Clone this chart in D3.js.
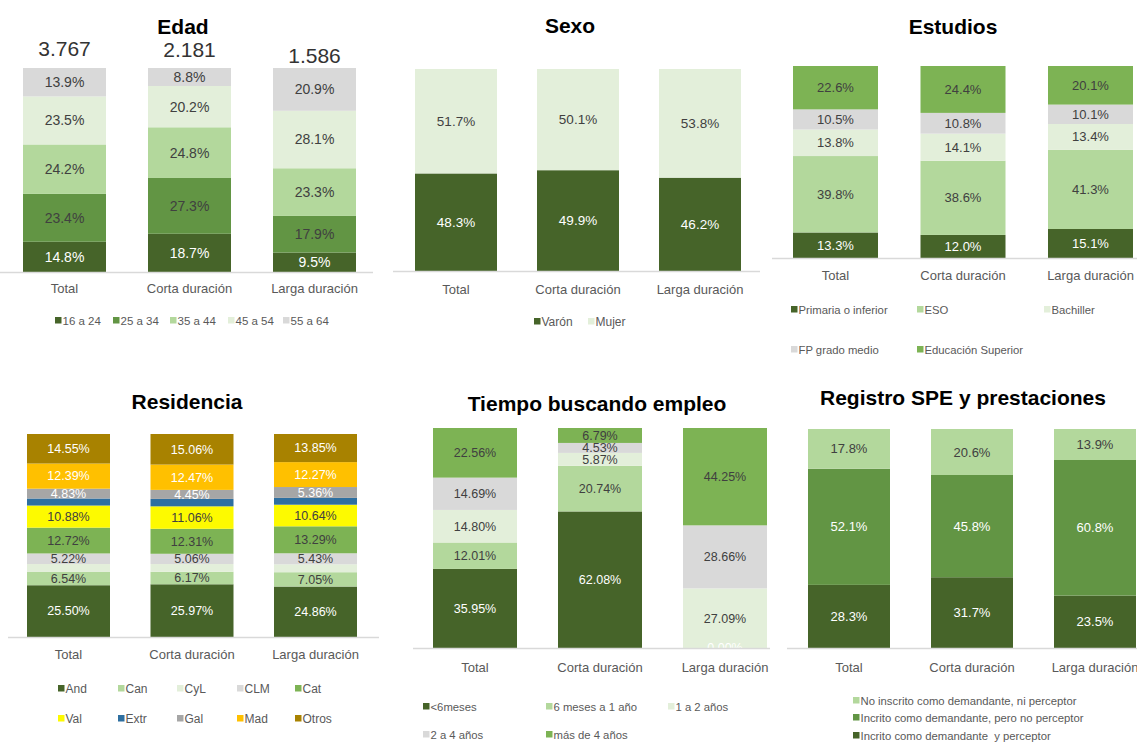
<!DOCTYPE html>
<html>
<head>
<meta charset="utf-8">
<script src="https://d3js.org/d3.v7.min.js"></script>
<style>
  body { margin: 0; background: #fff; }
  text { font-family: "Liberation Sans", Arial, sans-serif; }
</style>
</head>
<body>
<svg id="chart" width="1137" height="743"></svg>
<script>
  // categorias comunes a los seis paneles
  const categorias = ["Total", "Corta duración", "Larga duración"];

  // Edad
  const edadSeries = ["16 a 24", "25 a 34", "35 a 44", "45 a 54", "55 a 64"];
  const edadTotal = [14.8, 23.4, 24.2, 23.5, 13.9];
  const edadCorta = [18.7, 27.3, 24.8, 20.2, 8.8];
  const edadLarga = [9.5, 17.9, 23.3, 28.1, 20.9];
  const edadN = ["3.767", "2.181", "1.586"];

  // Sexo
  const sexoSeries = ["Varón", "Mujer"];
  const sexoTotal = [48.3, 51.7];
  const sexoCorta = [49.9, 50.1];
  const sexoLarga = [46.2, 53.8];

  // Estudios
  const estudiosSeries = ["Primaria o inferior", "ESO", "Bachiller", "FP grado medio", "Educación Superior"];
  const estudiosTotal = [13.3, 39.8, 13.8, 10.5, 22.6];
  const estudiosCorta = [12.0, 38.6, 14.1, 10.8, 24.4];
  const estudiosLarga = [15.1, 41.3, 13.4, 10.1, 20.1];

  // Residencia (CyL y Extr sin etiqueta en el original, valores estimados)
  const residenciaSeries = ["And", "Can", "CyL", "CLM", "Cat", "Val", "Extr", "Gal", "Mad", "Otros"];
  const residenciaTotal = [25.50, 6.54, 3.90, 5.22, 12.72, 10.88, 3.47, 4.83, 12.39, 14.55];
  const residenciaCorta = [25.97, 6.17, 3.80, 5.06, 12.31, 11.06, 3.65, 4.45, 12.47, 15.06];
  const residenciaLarga = [24.86, 7.05, 3.90, 5.43, 13.29, 10.64, 3.35, 5.36, 12.27, 13.85];
  const residenciaSinEtiqueta = ["CyL", "Extr"];

  // Tiempo buscando empleo
  const tiempoSeries = ["<6meses", "6 meses a 1 año", "1 a 2 años", "2 a 4 años", "más de 4 años"];
  const tiempoTotal = [35.95, 12.01, 14.80, 14.69, 22.56];
  const tiempoCorta = [62.08, 20.74, 5.87, 4.53, 6.79];
  const tiempoLarga = [0.00, null, 27.09, 28.66, 44.25];

  // Registro SPE y prestaciones
  const registroSeries = ["Incrito como demandante  y perceptor", "Incrito como demandante, pero no perceptor", "No inscrito como demandante, ni perceptor"];
  const registroTotal = [28.3, 52.1, 17.8];
  const registroCorta = [31.7, 45.8, 20.6];
  const registroLarga = [23.5, 60.8, 13.9];

  // colores
  const dark = "#466429", mid = "#629544", green = "#7db354", light = "#b3d89c",
        pale = "#e3efda", gray = "#d9d9d9", gal = "#a6a6a6", extr = "#2e6fa0",
        val = "#fdfa00", mad = "#ffc000", otros = "#a88200";
  const ink = "#404040", white = "#ffffff";

  const svg = d3.select("#chart");

  function drawPanel(p) {
    const g = svg.append("g");

    const x = d3.scaleBand()
      .domain(categorias)
      .range([p.left, p.left + 2 * p.step + p.barW])
      .paddingInner(1 - p.barW / p.step)
      .paddingOuter(0);

    const y = d3.scaleLinear().domain([0, 1]).range([p.bottom, p.top]);

    const rows = categorias.map((c, i) => {
      const o = { cat: c };
      p.series.forEach((s, j) => o[s] = p.values[i][j] ?? 0);
      return o;
    });
    const layers = d3.stack().keys(p.series).offset(d3.stackOffsetExpand)(rows);

    // segmentos
    g.selectAll("g.layer")
      .data(layers)
      .enter().append("g")
      .attr("fill", (d, i) => p.colors[i])
      .selectAll("rect")
      .data(d => d)
      .enter().append("rect")
      .attr("x", d => x(d.data.cat))
      .attr("y", d => y(d[1]))
      .attr("width", x.bandwidth())
      .attr("height", d => y(d[0]) - y(d[1]));

    // etiquetas de valor
    const fmt = d3.format("." + p.decimals + "f");
    layers.forEach((layer, i) => {
      if (p.noLabel && p.noLabel.includes(p.series[i])) return;
      layer.forEach((d, k) => {
        const v = p.values[k][i];
        if (v === null) return;
        g.append("text")
          .attr("x", x(d.data.cat) + x.bandwidth() / 2)
          .attr("y", y((d[0] + d[1]) / 2))
          .attr("dy", "0.35em")
          .attr("text-anchor", "middle")
          .attr("font-size", p.labelSize)
          .attr("fill", p.labelColors[i])
          .text(fmt(v) + "%");
      });
    });

    // linea base
    g.append("line")
      .attr("x1", p.lineX[0]).attr("x2", p.lineX[1])
      .attr("y1", p.bottom + 0.5).attr("y2", p.bottom + 0.5)
      .attr("stroke", "#d9d9d9").attr("stroke-width", 1.5);

    // categorias
    const ax = g.append("g")
      .attr("transform", `translate(0,${p.catY - 9})`)
      .call(d3.axisBottom(x).tickSize(0).tickPadding(0));
    ax.select(".domain").remove();
    ax.selectAll("text")
      .attr("font-size", 13)
      .attr("font-family", "Liberation Sans, Arial, sans-serif")
      .attr("fill", "#595959");

    // titulo
    g.append("text")
      .attr("x", p.titleX).attr("y", p.titleY)
      .attr("text-anchor", "middle")
      .attr("font-size", 21)
      .attr("font-weight", "bold")
      .attr("fill", "#000")
      .text(p.title);

    // leyenda
    p.legend.forEach(([idx, lx, ly]) => {
      g.append("rect")
        .attr("x", lx).attr("y", ly - 8)
        .attr("width", 6.5).attr("height", 6.5)
        .attr("fill", p.colors[idx]);
      g.append("text")
        .attr("x", lx + 7.5).attr("y", ly)
        .attr("font-size", p.legendSize)
        .attr("fill", "#595959")
        .style("white-space", "pre")
        .text(p.series[idx]);
    });

    return { g, x };
  }

  // Edad
  const edad = drawPanel({
    title: "Edad", titleX: 183, titleY: 34,
    series: edadSeries, values: [edadTotal, edadCorta, edadLarga],
    colors: [dark, mid, light, pale, gray],
    labelColors: [white, ink, ink, ink, ink],
    decimals: 1, labelSize: 14,
    left: 23, barW: 83, step: 125, top: 68, bottom: 272,
    lineX: [0, 373], catY: 293,
    legendSize: 11.5,
    legend: [[0, 55, 325], [1, 113, 325], [2, 170, 325], [3, 228, 325], [4, 283, 325]]
  });
  const nY = [56, 57, 63];
  edad.g.selectAll("text.n")
    .data(edadN)
    .enter().append("text")
    .attr("class", "n")
    .attr("x", (d, i) => edad.x(categorias[i]) + edad.x.bandwidth() / 2)
    .attr("y", (d, i) => nY[i])
    .attr("text-anchor", "middle")
    .attr("font-size", 21)
    .attr("fill", "#333")
    .text(d => d);

  // Sexo
  drawPanel({
    title: "Sexo", titleX: 570, titleY: 33,
    series: sexoSeries, values: [sexoTotal, sexoCorta, sexoLarga],
    colors: [dark, pale],
    labelColors: [white, ink],
    decimals: 1, labelSize: 13.5,
    left: 415, barW: 82, step: 122, top: 69, bottom: 271,
    lineX: [393, 760], catY: 294,
    legendSize: 12,
    legend: [[0, 534, 326], [1, 588, 326]]
  });

  // Estudios
  drawPanel({
    title: "Estudios", titleX: 953, titleY: 34,
    series: estudiosSeries, values: [estudiosTotal, estudiosCorta, estudiosLarga],
    colors: [dark, light, pale, gray, green],
    labelColors: [white, ink, ink, ink, ink],
    decimals: 1, labelSize: 13,
    left: 793, barW: 85, step: 127.5, top: 66, bottom: 258,
    lineX: [772, 1137], catY: 280,
    legendSize: 11.3,
    legend: [[0, 791, 314], [1, 917, 314], [2, 1044, 314], [3, 791, 354], [4, 917, 354]]
  });

  // Residencia
  drawPanel({
    title: "Residencia", titleX: 187, titleY: 409,
    series: residenciaSeries, values: [residenciaTotal, residenciaCorta, residenciaLarga],
    noLabel: residenciaSinEtiqueta,
    colors: [dark, light, pale, gray, green, val, extr, gal, mad, otros],
    labelColors: [white, ink, ink, ink, ink, ink, white, white, white, white],
    decimals: 2, labelSize: 12.5,
    left: 27, barW: 83, step: 123.5, top: 434, bottom: 637,
    lineX: [8, 379], catY: 659,
    legendSize: 12,
    legend: [[0, 58, 693], [1, 118, 693], [2, 177, 693], [3, 237, 693], [4, 295, 693],
             [5, 58, 723], [6, 118, 723], [7, 177, 723], [8, 237, 723], [9, 295, 723]]
  });

  // Tiempo buscando empleo
  drawPanel({
    title: "Tiempo buscando empleo", titleX: 597, titleY: 411,
    series: tiempoSeries, values: [tiempoTotal, tiempoCorta, tiempoLarga],
    colors: [dark, light, pale, gray, green],
    labelColors: [white, ink, ink, ink, ink],
    decimals: 2, labelSize: 12.5,
    left: 433, barW: 84, step: 125, top: 428, bottom: 648,
    lineX: [413, 770], catY: 672,
    legendSize: 11.3,
    legend: [[0, 423, 711], [1, 546, 711], [2, 668, 711], [3, 423, 739], [4, 546, 739]]
  });

  // Registro SPE y prestaciones
  drawPanel({
    title: "Registro SPE y prestaciones", titleX: 963, titleY: 405,
    series: registroSeries, values: [registroTotal, registroCorta, registroLarga],
    colors: [dark, mid, light],
    labelColors: [white, white, ink],
    decimals: 1, labelSize: 13,
    left: 808, barW: 82, step: 123, top: 429, bottom: 648,
    lineX: [787, 1137], catY: 672,
    legendSize: 11.3,
    legend: [[2, 853, 705], [1, 853, 722], [0, 853, 740]]
  });
</script>
</body>
</html>
